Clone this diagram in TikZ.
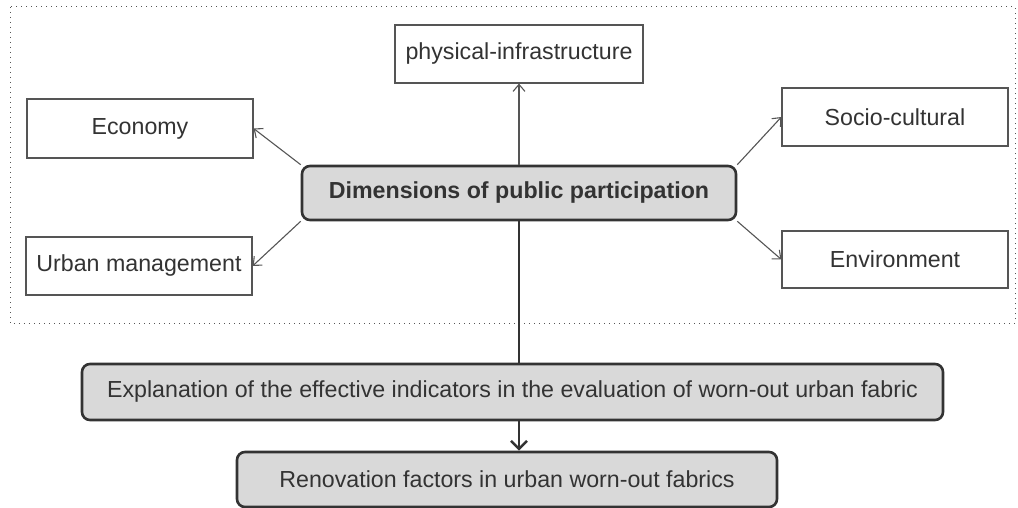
\documentclass[tikz,border=0pt]{standalone}
\usepackage{fontspec}
\setmainfont{Liberation Sans}
\usetikzlibrary{arrows.meta}
\definecolor{boxgray}{HTML}{D9D9D9}
\definecolor{inkgray}{HTML}{333333}
\definecolor{linegray}{HTML}{555555}
\begin{document}
\begin{tikzpicture}[x=0.5pt, y=-0.5pt,
		every node/.style={font=\fontsize{11.6pt}{13.5pt}\selectfont, text=inkgray},
		dimbox/.style={draw=linegray, line width=0.6pt, fill=white, inner sep=0pt},
		mainbox/.style={draw=inkgray, line width=1.3pt, fill=boxgray, rounded corners=4pt, inner sep=0pt},
		link/.style={draw=linegray, line width=0.55pt, -{Straight Barb[length=3.5pt,width=6pt]}}]
		\useasboundingbox (0,0) rectangle (1018,508);

		% Draw the dotted frame
		\draw[linegray, line width=0.5pt, dotted] (10,7) rectangle (1015,323);

		% Draw the central box
		\node[mainbox, minimum width=217pt, minimum height=27pt, font=\fontsize{11.6pt}{13.5pt}\selectfont\bfseries] (dim) at (519,193) {Dimensions of public participation};

		% Draw the dimension boxes
		\node[dimbox, minimum width=124pt, minimum height=29pt] (phys) at (519,54) {physical-infrastructure};
		\node[dimbox, minimum width=113pt, minimum height=29.5pt] (econ) at (140,128.5) {Economy};
		\node[dimbox, minimum width=113pt, minimum height=29pt] (urban) at (139,266) {Urban management};
		\node[dimbox, minimum width=113pt, minimum height=29pt] (socio) at (895,117) {Socio-cultural};
		\node[dimbox, minimum width=113pt, minimum height=28.5pt] (env) at (895,259.5) {Environment};

		% Draw the lower boxes
		\node[mainbox, minimum width=430.5pt, minimum height=28pt] (expl) at (512.5,392) {Explanation of the effective indicators in the evaluation of worn-out urban fabric};
		\node[mainbox, minimum width=270pt, minimum height=27.5pt] (reno) at (507,479.5) {Renovation factors in urban worn-out fabrics};

		% Draw the arrows out of the central box
		\draw[link] (dim.north) -- (phys.south);
		\draw[link] (dim.north west) -- (econ.east);
		\draw[link] (dim.south west) -- (urban.east);
		\draw[link] (dim.north east) -- (socio.west);
		\draw[link] (dim.south east) -- (env.west);

		% Draw the thick lines down the middle
		\draw[inkgray, line width=1.3pt] (dim.south) -- (dim.south |- expl.north);
		\draw[inkgray, line width=1.3pt, -{Straight Barb[length=4pt,width=8pt]}] (dim.south |- expl.south) -- (dim.south |- reno.north);

\end{tikzpicture}
\end{document}
